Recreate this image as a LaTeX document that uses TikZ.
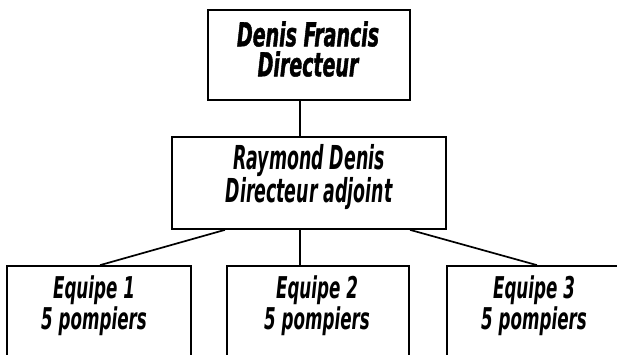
\documentclass[tikz,border=0pt]{standalone}
\usepackage{fontspec}
% condensed, slanted lettering for the chart labels
\newfontfamily\orgheavy[FakeStretch=0.64,FakeBold=1.2]{DejaVu Sans Condensed}
\newfontfamily\orgfont[FakeStretch=0.585]{DejaVu Sans Condensed}
\newfontfamily\orgteam[FakeStretch=0.62]{DejaVu Sans Condensed}
\begin{document}
\begin{tikzpicture}[x=1pt,y=-1pt,
  box/.style={draw, line width=1.7pt, inner sep=0pt},
  link/.style={line width=1.7pt},
  headtext/.style={align=center, inner sep=0pt,
    font={\orgheavy\bfseries\itshape\fontsize{33}{30}\selectfont}},
  subtext/.style={align=center, inner sep=0pt,
    font={\orgfont\bfseries\itshape\fontsize{33}{30}\selectfont}},
  teamtext/.style={align=center, inner sep=0pt,
    font={\orgteam\bfseries\itshape\fontsize{30}{31}\selectfont}}]
\useasboundingbox (0,0) rectangle (617,354);
\clip (0,0) rectangle (617,354);

% boxes
\node[box, minimum width=202pt, minimum height=90pt] (dir) at (309,55) {};
\node[box, minimum width=274pt, minimum height=92pt] (adj) at (309,183) {};
\node[box, minimum width=184pt, minimum height=154pt] (e1) at (99,343) {};
\node[box, minimum width=182pt, minimum height=154pt] (e2) at (318,343) {};
\node[box, minimum width=184pt, minimum height=154pt] (e3) at (539,343) {};

% labels
\node[headtext] (tdir) at (308,49) {Denis Francis\\Directeur};
\node[subtext] (tadj) at (309,177) {Raymond Denis\\Directeur adjoint};
\node[teamtext] (te1) at (94,306) {Equipe 1\\5 pompiers};
\node[teamtext] (te2) at (317,306) {Equipe 2\\5 pompiers};
\node[teamtext] (te3) at (534,306) {Equipe 3\\5 pompiers};

% connectors
\draw[link] ([xshift=-9pt]dir.south) -- ([xshift=-9pt]adj.north);
\draw[link] ([xshift=-84pt]adj.south) -- ([xshift=1pt]e1.north);
\draw[link] ([xshift=-9pt]adj.south) -- ([xshift=-18pt]e2.north);
\draw[link] ([xshift=101pt]adj.south) -- ([xshift=-2pt]e3.north);
\end{tikzpicture}
\end{document}
